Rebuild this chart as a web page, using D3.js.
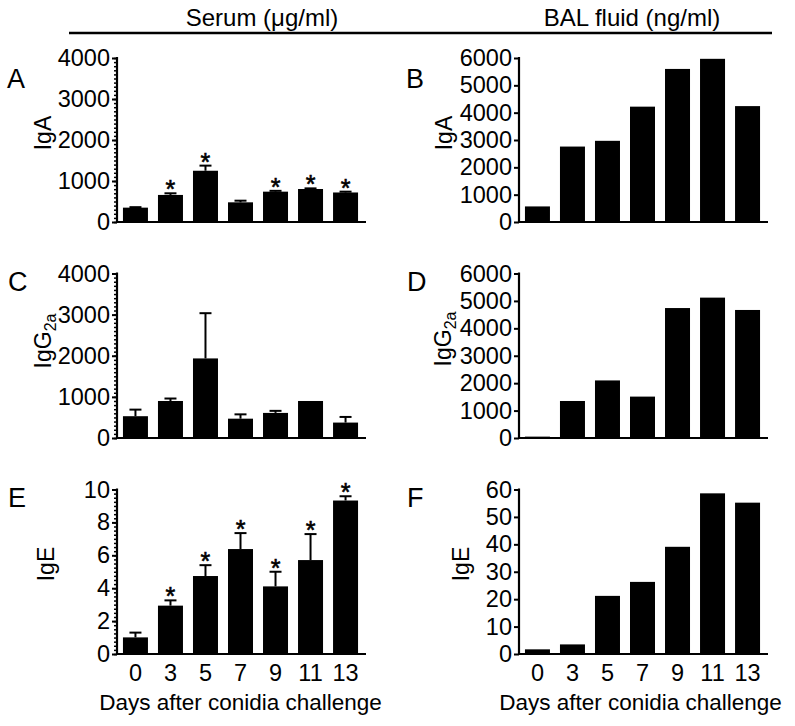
<!DOCTYPE html>
<html><head><meta charset="utf-8">
<script src="https://cdn.jsdelivr.net/npm/d3@7"></script>
<style>body{margin:0;background:#fff}svg{display:block}text{font-family:"Liberation Sans",Arial,sans-serif;fill:#000}</style>
</head><body>
<script>
// ---------- data ----------
const days = ["0","3","5","7","9","11","13"];
const serumIgA = [350, 660, 1250, 480, 740, 805, 720];
const serumIgAErr = [12, 40, 125, 40, 20, 15, 20];
const serumIgAStar = [0, 1, 1, 0, 1, 1, 1];
const balIgA = [570, 2760, 2970, 4220, 5600, 5970, 4240];
const serumIgG2a = [530, 900, 1935, 470, 610, 900, 375];
const serumIgG2aErr = [160, 60, 1100, 105, 50, 0, 137];
const balIgG2a = [50, 1350, 2100, 1510, 4740, 5120, 4670];
const serumIgE = [1.01, 2.94, 4.74, 6.38, 4.11, 5.71, 9.33];
const serumIgEErr = [0.29, 0.32, 0.66, 0.97, 0.89, 1.58, 0.26];
const serumIgEStar = [0, 1, 1, 1, 1, 1, 1];
const balIgE = [1.7, 3.5, 21.2, 26.3, 39.1, 58.6, 55.2];
const headers = ["Serum (\u03bcg/ml)", "BAL fluid (ng/ml)"];
const xTitle = "Days after conidia challenge";

// ---------- layout ----------
const W = 795, H = 726;
const svg = d3.select("body").append("svg").attr("width", W).attr("height", H);
const FONT = 23.5;

const cols = [{x0: 117, x1: 364}, {x0: 519, x1: 766}];
const rows = [{top: 58, bot: 222}, {top: 273.5, bot: 438}, {top: 489.5, bot: 654}];

const panels = [
  {letter:"A", col:0, row:0, vals:serumIgA, err:serumIgAErr, star:serumIgAStar, max:4000, step:1000, minor:100, label:"IgA", sub:null, lx:51, ly:133, letX:7, letY:88},
  {letter:"B", col:1, row:0, vals:balIgA, err:null, star:null, max:6000, step:1000, minor:0, label:"IgA", sub:null, lx:452, ly:133, letX:406, letY:88},
  {letter:"C", col:0, row:1, vals:serumIgG2a, err:serumIgG2aErr, star:null, max:4000, step:1000, minor:100, label:"IgG", sub:"2a", lx:51, ly:341, letX:8, letY:291},
  {letter:"D", col:1, row:1, vals:balIgG2a, err:null, star:null, max:6000, step:1000, minor:0, label:"IgG", sub:"2a", lx:451, ly:339, letX:407, letY:291},
  {letter:"E", col:0, row:2, vals:serumIgE, err:serumIgEErr, star:serumIgEStar, max:10, step:2, minor:0.25, label:"IgE", sub:null, lx:54, ly:564, letX:8, letY:507},
  {letter:"F", col:1, row:2, vals:balIgE, err:null, star:null, max:60, step:10, minor:0, label:"IgE", sub:null, lx:469, ly:564, letX:407, letY:507}
];

// header
headers.forEach((h, i) => {
  svg.append("text").attr("x", i === 0 ? 262 : 632).attr("y", 26)
    .attr("text-anchor", "middle").attr("font-size", 24).text(h);
});
svg.append("line").attr("x1", 69).attr("x2", 772).attr("y1", 33).attr("y2", 33)
  .attr("stroke", "#000").attr("stroke-width", 2.5);

panels.forEach(p => {
  const c = cols[p.col], r = rows[p.row];
  const g = svg.append("g");
  const x = d3.scaleBand().domain(days).range([c.x0, c.x1]).paddingInner(0.286).paddingOuter(0.17);
  const y = d3.scaleLinear().domain([0, p.max]).range([r.bot, r.top]);

  // minor ticks
  if (p.minor) {
    const minors = d3.range(0, p.max + p.minor / 2, p.minor);
    const am = d3.axisLeft(y).tickValues(minors).tickSize(3).tickFormat("");
    const gm = g.append("g").attr("transform", `translate(${c.x0},0)`).call(am);
    gm.select(".domain").remove();
    gm.selectAll("line").attr("stroke-width", 1.5);
  }
  // major axis
  const ticks = d3.range(0, p.max + p.step / 2, p.step);
  const ay = d3.axisLeft(y).tickValues(ticks).tickSize(5).tickPadding(2).tickFormat(d3.format("d"));
  const ga = g.append("g").attr("transform", `translate(${c.x0},0)`).call(ay);
  ga.select(".domain").remove();
  ga.selectAll("line").attr("stroke-width", 2);
  ga.selectAll("text").attr("font-size", FONT).style("font-family", '"Liberation Sans",Arial,sans-serif');

  // bars
  g.selectAll("rect.bar").data(p.vals).join("rect")
    .attr("x", (d, i) => x(days[i])).attr("width", x.bandwidth())
    .attr("y", d => y(d)).attr("height", d => y(0) - y(d)).attr("fill", "#000");

  // error bars
  if (p.err) {
    p.vals.forEach((v, i) => {
      const e = p.err[i];
      if (!e) return;
      const cx = x(days[i]) + x.bandwidth() / 2;
      g.append("line").attr("x1", cx).attr("x2", cx).attr("y1", y(v)).attr("y2", y(v + e))
        .attr("stroke", "#000").attr("stroke-width", 2);
      g.append("line").attr("x1", cx - 6).attr("x2", cx + 6).attr("y1", y(v + e)).attr("y2", y(v + e))
        .attr("stroke", "#000").attr("stroke-width", 2);
    });
  }
  // stars
  if (p.star) {
    p.vals.forEach((v, i) => {
      if (!p.star[i]) return;
      const top = y(v + (p.err ? p.err[i] : 0));
      g.append("text").attr("x", x(days[i]) + x.bandwidth() / 2).attr("y", top + 5)
        .attr("text-anchor", "middle").attr("font-size", 25).attr("stroke", "#000").attr("stroke-width", 0.6).text("*");
    });
  }

  // axis lines
  g.append("line").attr("x1", c.x0).attr("x2", c.x0).attr("y1", y(p.max) - 1).attr("y2", y(0) + 1)
    .attr("stroke", "#000").attr("stroke-width", 2.2);
  g.append("line").attr("x1", c.x0 - 1).attr("x2", c.x1 + 2).attr("y1", y(0)).attr("y2", y(0))
    .attr("stroke", "#000").attr("stroke-width", 2.2);

  // x tick labels on bottom row
  if (p.row === 2) {
    g.selectAll("text.xt").data(days).join("text")
      .attr("x", d => x(d) + x.bandwidth() / 2).attr("y", 681)
      .attr("text-anchor", "middle").attr("font-size", FONT).text(d => d);
    g.append("text").attr("x", (c.x0 + c.x1) / 2 + (p.col === 0 ? 0 : -2)).attr("y", 710)
      .attr("text-anchor", "middle").attr("font-size", 22.5).text(xTitle);
  }

  // y label
  const t = g.append("text").attr("transform", `translate(${p.lx},${p.ly}) rotate(-90)`)
    .attr("text-anchor", "middle").attr("font-size", 23);
  t.append("tspan").text(p.label);
  if (p.sub) t.append("tspan").attr("font-size", 16).attr("dy", 5).text(p.sub);

  // panel letter
  svg.append("text").attr("x", p.letX).attr("y", p.letY).attr("font-size", 27).text(p.letter);
});
</script>
</body></html>
